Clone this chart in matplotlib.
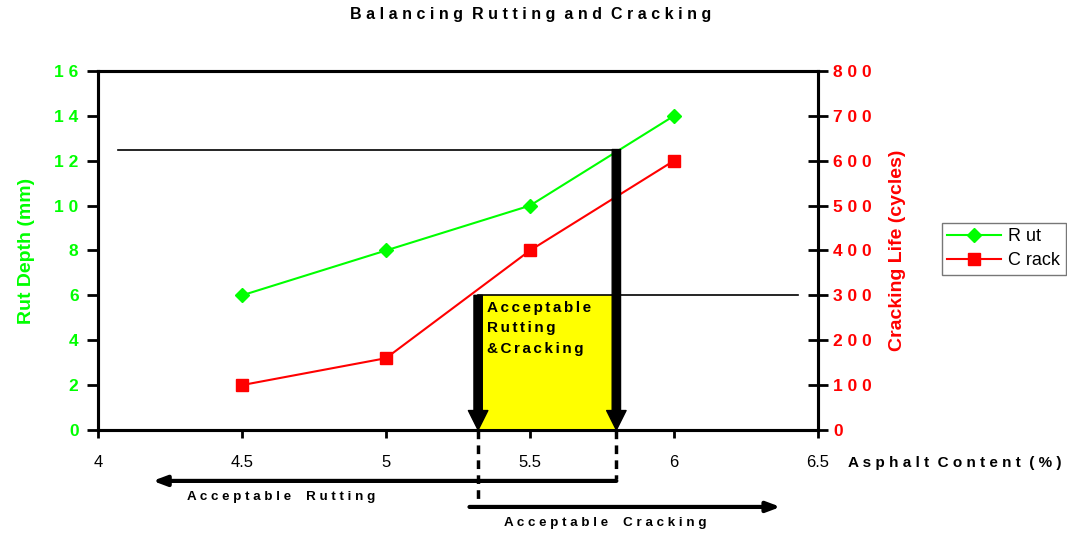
import matplotlib

matplotlib.use("Agg")
import matplotlib.pyplot as plt

# data
asphalt = [4.5, 5.0, 5.5, 6.0]
rut_mm = [6, 8, 10, 14]
crack_cycles = [100, 160, 400, 600]

x_ticks = [4, 4.5, 5, 5.5, 6, 6.5]
x_labels = ["4", "4.5", "5", "5.5", "6", "6.5"]
rut_ticks = [0, 2, 4, 6, 8, 10, 12, 14, 16]
crack_ticks = [0, 100, 200, 300, 400, 500, 600, 700, 800]

rut_limit = 12.5      # max acceptable rut depth (mm)
crack_limit = 300     # min acceptable cracking life (cycles)
ac_rut_max = 5.8      # asphalt content where rut hits limit
ac_crack_min = 5.32   # asphalt content where crack hits limit

GREEN = "#00ff00"
RED = "#ff0000"
FONT = "Liberation Sans"
HS = "\u200a\u200a"  # hair spaces for the wide letter spacing of the original


def spaced(s, sep=" "):
    return sep.join(s)


plt.rcParams["font.family"] = [FONT, "DejaVu Sans"]

fig = plt.figure(figsize=(10.67, 5.35), dpi=100)
ax = fig.add_axes([0.0918, 0.1963, 0.6748, 0.671])
ax2 = ax.twinx()

ax.set_xlim(4, 6.5)
ax.set_ylim(0, 16)
ax2.set_ylim(0, 800)

# acceptable zone box (on crack axis)
ax2.fill_between([ac_crack_min, ac_rut_max], 0, crack_limit, color="#ffff00", lw=0, zorder=1)

# limit lines
ax.plot([4.07, ac_rut_max], [rut_limit, rut_limit], color="black", lw=1.2, zorder=2)
ax2.plot([ac_crack_min, 6.43], [crack_limit, crack_limit], color="black", lw=1.2, zorder=2)

# thick down arrows
big = dict(width=6, headwidth=14, headlength=14, facecolor="black", edgecolor="black",
           shrink=0)
ax2.annotate("", xy=(ac_rut_max, 0), xytext=(ac_rut_max, rut_limit * 50), arrowprops=big, zorder=5)
ax2.annotate("", xy=(ac_crack_min, 0), xytext=(ac_crack_min, crack_limit), arrowprops=big, zorder=5)

ax2.text(ac_crack_min + 0.03, crack_limit - 12,
         "\n".join(HS.join(w) for w in ["Acceptable", "Rutting", "&Cracking"]),
         fontsize=11, fontweight="bold", va="top", ha="left", linespacing=1.6, zorder=6)

# series
l1, = ax.plot(asphalt, rut_mm, color=GREEN, lw=1.5, marker="D", ms=7, zorder=4, label="Rut")
l2, = ax2.plot(asphalt, crack_cycles, color=RED, lw=1.5, marker="s", ms=9, zorder=4, label="Crack")
ax2.set_zorder(ax.get_zorder() + 1)
ax2.patch.set_visible(False)

# below-axis guides (rut units, unclipped)
ax.plot([ac_rut_max, ac_rut_max], [0, -2.2], color="black", lw=2.5, ls=(0, (2.5, 1.8)), clip_on=False)
ax.plot([ac_crack_min, ac_crack_min], [0, -3.2], color="black", lw=2.5, ls=(0, (2.5, 1.8)), clip_on=False)
ax.annotate("", xy=(4.19, -2.27), xytext=(ac_rut_max, -2.27), annotation_clip=False,
            arrowprops=dict(arrowstyle="-|>,head_width=0.3,head_length=0.8",
                            color="black", lw=3, shrinkA=0, shrinkB=0))
ax.annotate("", xy=(6.37, -3.43), xytext=(5.29, -3.43), annotation_clip=False,
            arrowprops=dict(arrowstyle="-|>,head_width=0.3,head_length=0.8",
                            color="black", lw=3, shrinkA=0, shrinkB=0))
ax.text(4.31, -3.0, "A c c e p t a b l e    R u t t i n g", fontsize=9.6, fontweight="bold",
        va="center", ha="left")
ax.text(5.41, -4.15, "A c c e p t a b l e    C r a c k i n g", fontsize=9.6, fontweight="bold",
        va="center", ha="left")

# axes styling
ax.set_xticks(x_ticks)
ax.set_xticklabels(x_labels, fontsize=12)
ax.set_yticks(rut_ticks)
ax.set_yticklabels([spaced(str(v)) for v in rut_ticks], fontsize=12.5, fontweight="bold", color=GREEN)
ax2.set_yticks(crack_ticks)
ax2.set_yticklabels([spaced(str(v)) for v in crack_ticks], fontsize=12.5, fontweight="bold", color=RED)

ax.tick_params(axis="x", direction="out", length=6, width=2, pad=12)
ax.tick_params(axis="y", direction="out", length=8, width=2, pad=6)
ax2.tick_params(axis="y", direction="inout", length=14, width=2, pad=4)
for a in (ax, ax2):
    for s in a.spines.values():
        s.set_linewidth(2.2)

ax.set_ylabel("Rut Depth (mm)", fontsize=14, fontweight="bold", color=GREEN, labelpad=14)
ax2.set_ylabel("Cracking Life (cycles)", fontsize=14, fontweight="bold", color=RED, labelpad=12)

fig.text(0.795, 0.135, "A s p h a l t  C o n t e n t  ( % )", fontsize=11, fontweight="bold",
         ha="left", va="center")
fig.text(0.497, 0.972, "B a l a n c i n g  R u t t i n g  a n d  C r a c k i n g",
         fontsize=11.5, fontweight="bold", ha="center", va="center")

leg = fig.legend(handles=[l1, l2], labels=["R ut", "C rack"], loc="center left",
                 bbox_to_anchor=(0.874, 0.535), fontsize=13, frameon=True, fancybox=False,
                 edgecolor="#555555", handlelength=3, borderpad=0.3, labelspacing=0.4,
                 handletextpad=0.4)
leg.get_frame().set_linewidth(1)

fig.savefig("out.png", dpi=100)
